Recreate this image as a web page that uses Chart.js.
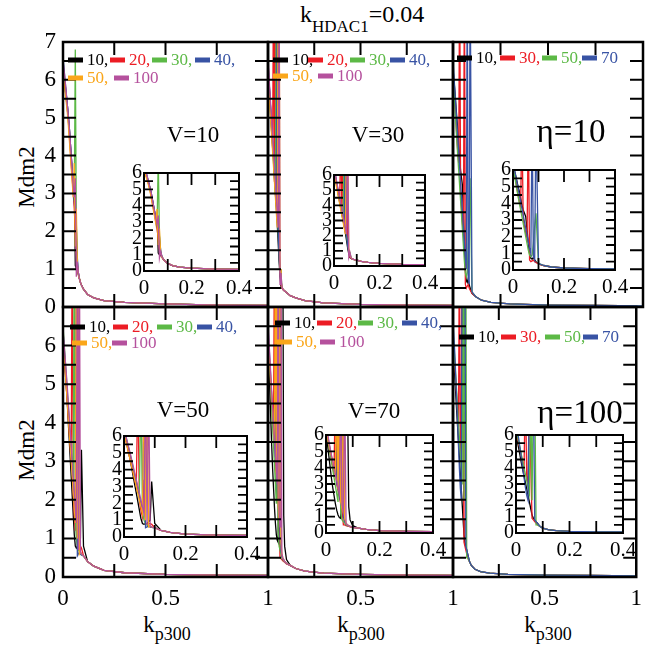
<!DOCTYPE html>
<html>
<head>
<meta charset="utf-8">
<script src="https://cdn.jsdelivr.net/npm/chart.js@4.4.1/dist/chart.umd.min.js"></script>
<style>
  body { margin: 0; background: #fff; font-family: 'Liberation Serif', serif; }
  #wrap { position: relative; width: 650px; height: 648px; overflow: hidden; }
  #wrap canvas { position: absolute; left: 0; top: 0; }
  .lbl { position: absolute; white-space: nowrap; color: #000; line-height: 1; font-family: 'Liberation Serif', serif; }
  .sub { position: relative; }
  .ylab { transform: translate(-50%, -50%) rotate(-90deg); }
  .xlab { transform: translateX(-50%); }
</style>
</head>
<body>
<div id="wrap">
  <div class="lbl" style="left:300px;top:2px;font-size:24px">k<span class="sub" style="font-size:17px;top:10px">HDAC1</span>=0.04</div>
  <div class="lbl ylab" style="left:26px;top:177px;font-size:23px">Mdm2</div>
  <div class="lbl ylab" style="left:26px;top:450px;font-size:23px">Mdm2</div>
  <div class="lbl xlab" style="left:167px;top:613px;font-size:23px">k<span class="sub" style="font-size:18px;top:8px">p300</span></div>
  <div class="lbl xlab" style="left:361px;top:613px;font-size:23px">k<span class="sub" style="font-size:18px;top:8px">p300</span></div>
  <div class="lbl xlab" style="left:548px;top:613px;font-size:23px">k<span class="sub" style="font-size:18px;top:8px">p300</span></div>
</div>
<script>
/* Mdm2 response vs k_p300, six parameter sets, each with a zoomed inset */

// sample points on the k_p300 axis (dense near the drop, coarse in the tail)
const kp300 = [0, 0.01, 0.02, 0.025, 0.03, 0.035, 0.04, 0.045, 0.05, 0.055, 0.06, 0.065, 0.07, 0.075, 0.08, 0.085, 0.09, 0.1,
               0.12, 0.15, 0.2, 0.3, 0.5, 0.75, 1];

// series order: V panels 10,20,30,40,50,100 ; eta panels 10,30,50,70
const legendV = ['10,', '20,', '30,', '40,', '50,', '100'];
const legendEta = ['10,', '30,', '50,', '70'];
const COLORS_V = ['#000000', '#ec1c24', '#5cb946', '#3853a4', '#faa61a', '#b5519d'];
const COLORS_ETA = ['#000000', '#ec1c24', '#5cb946', '#3853a4'];

// Mdm2 values for k_p300 <= 0.1 (values above the axis top run off the frame)
const headV10 = [
  [6.4, 5.9, 5.4, 5.1, 4.8, 4.4, 4.0, 3.6, 3.3, 3.5, 1.1, 1.0, 0.95, 0.85, 0.75, 0.65, 0.58, 0.47],
  [6.3, 5.8, 5.3, 5.0, 4.6, 4.2, 3.8, 3.4, 3.0, 2.6, 2.0, 1.4, 1.1, 0.9, 0.75, 0.65, 0.58, 0.47],
  [6.3, 5.8, 5.3, 5.0, 4.7, 4.3, 3.9, 3.5, 3.1, 2.8, 6.8, 2.2, 1.2, 0.9, 0.75, 0.65, 0.58, 0.47],
  [6.6, 6.0, 5.4, 5.1, 4.8, 4.4, 4.0, 3.6, 3.2, 2.8, 2.4, 2.1, 1.3, 0.9, 0.75, 0.65, 0.58, 0.47],
  [6.2, 5.7, 5.2, 4.9, 4.5, 4.1, 3.7, 3.3, 2.9, 3.8, 1.6, 2.6, 1.1, 0.85, 0.75, 0.65, 0.58, 0.47],
  [6.5, 6.0, 5.4, 5.1, 4.8, 4.4, 4.0, 3.6, 3.2, 2.9, 3.4, 0.8, 1.2, 0.9, 0.75, 0.65, 0.58, 0.47],
];
const headV30 = [
  [6.5, 5.6, 4.7, 4.3, 3.9, 3.4, 3.0, 2.6, 2.2, 1.7, 1.2, 0.8, 0.55, 0.5, 0.47, 0.44, 0.42, 0.38],
  [6.3, 5.5, 4.6, 4.2, 9, 3.3, 9, 3.0, 2.4, 9, 1.5, 1.0, 0.6, 0.5, 0.47, 0.44, 0.42, 0.38],
  [6.2, 5.4, 4.6, 4.2, 3.8, 3.4, 3.0, 9, 2.4, 2.0, 1.5, 1.0, 0.9, 0.55, 0.47, 0.44, 0.42, 0.38],
  [6.4, 5.6, 4.8, 4.4, 4.0, 3.6, 3.2, 2.8, 9, 2.1, 1.4, 0.9, 0.7, 0.55, 0.47, 0.44, 0.42, 0.38],
  [6.1, 5.3, 4.5, 4.1, 3.7, 3.3, 2.9, 2.5, 2.1, 9, 9, 1.0, 0.7, 0.55, 0.47, 0.44, 0.42, 0.38],
  [6.6, 5.7, 4.9, 4.5, 4.1, 3.7, 3.3, 2.9, 2.5, 2.1, 9, 0.6, 0.9, 0.55, 0.47, 0.44, 0.42, 0.38],
];
const headEta10 = [
  [6.3, 5.7, 5.0, 4.7, 4.3, 3.9, 3.6, 3.4, 3.2, 2.4, 1.6, 1.0, 0.7, 0.65, 0.75, 0.6, 0.5, 0.36],
  [6.2, 5.4, 4.5, 4.1, 3.8, 9, 3.0, 2.6, 2.2, 1.9, 9, 0.6, 0.5, 0.55, 0.6, 0.5, 0.45, 0.36],
  [6.2, 5.3, 4.4, 4.0, 3.6, 3.2, 2.8, 2.4, 2.0, 1.6, 1.2, 0.9, 0.8, 0.9, 1.6, 2.6, 3.4, 0.4],
  [6.5, 5.7, 4.9, 4.5, 4.1, 3.7, 3.3, 2.9, 2.5, 2.1, 1.7, 1.3, 1.0, 9, 0.8, 0.6, 9, 0.4],
];
const headV50 = [
  [6.3, 5.5, 4.6, 4.1, 3.6, 3.1, 2.6, 2.1, 1.6, 1.1, 0.8, 0.75, 0.8, 0.8, 0.9, 1.0, 3.3, 0.8],
  [6.2, 5.4, 4.6, 4.2, 3.8, 3.4, 3.0, 9, 2.2, 1.6, 1.2, 3.4, 0.8, 0.75, 0.8, 0.8, 0.75, 0.55],
  [6.5, 5.7, 4.9, 4.5, 4.1, 3.7, 3.3, 2.9, 2.5, 9, 1.5, 1.0, 0.8, 0.7, 0.65, 0.6, 0.57, 0.55],
  [6.4, 5.6, 4.8, 4.4, 4.0, 3.6, 3.2, 2.8, 2.4, 2.0, 1.6, 9, 0.55, 0.6, 0.65, 0.6, 0.57, 0.55],
  [6.1, 5.4, 4.6, 4.2, 3.8, 3.4, 3.0, 2.6, 2.2, 1.8, 1.4, 9, 1.0, 9, 0.6, 0.65, 0.6, 0.55],
  [6.4, 5.7, 5.0, 4.6, 4.2, 3.8, 3.4, 3.0, 2.6, 2.2, 1.8, 1.4, 9, 0.7, 9, 0.65, 0.6, 0.55],
];
const headV70 = [
  [6.2, 4.8, 3.4, 2.8, 2.3, 1.8, 1.4, 1.1, 0.95, 0.9, 9, 9, 9, 9, 9, 1.6, 0.8, 0.45],
  [6.3, 5.4, 4.5, 4.1, 3.7, 9, 3.0, 2.6, 2.2, 9, 1.5, 0.5, 0.5, 0.45, 0.42, 0.4, 0.38, 0.34],
  [6.4, 5.4, 4.4, 3.9, 3.4, 2.9, 2.4, 1.9, 9, 1.2, 0.8, 0.7, 0.6, 0.5, 0.45, 0.42, 0.4, 0.35],
  [6.5, 5.6, 4.7, 4.3, 3.9, 3.5, 3.1, 9, 2.3, 1.9, 9, 1.0, 0.7, 0.55, 0.47, 0.43, 0.4, 0.35],
  [6.3, 5.5, 4.7, 4.3, 3.9, 3.5, 9, 2.7, 9, 1.9, 1.5, 9, 0.9, 0.6, 0.5, 0.45, 0.4, 0.35],
  [6.6, 5.7, 4.8, 4.4, 4.0, 3.6, 3.2, 2.8, 2.4, 9, 1.7, 1.3, 9, 0.6, 0.5, 0.45, 0.4, 0.35],
];
const headEta100 = [
  [6.0, 5.2, 4.3, 3.9, 3.5, 3.1, 2.7, 2.3, 1.9, 1.5, 1.1, 0.9, 0.8, 0.7, 0.6, 0.5, 0.4, 0.3],
  [6.3, 5.5, 4.7, 4.3, 3.9, 9, 3.5, 3.0, 9, 4.3, 0.9, 0.8, 0.7, 0.6, 0.5, 0.45, 0.4, 0.3],
  [6.4, 5.6, 4.8, 4.4, 4.0, 3.6, 3.2, 2.8, 2.4, 9, 2.0, 9, 9, 0.5, 0.5, 0.45, 0.4, 0.3],
  [6.6, 5.8, 4.6, 4.0, 3.4, 2.8, 2.3, 2.0, 9, 9, 9, 9, 0.8, 0.7, 0.6, 0.5, 0.4, 0.3],
];

// shared decay for k_p300 = 0.12 .. 1
const tailV10 = [0.33, 0.24, 0.17, 0.12, 0.08, 0.05, 0.04];
const tailV30 = [0.3, 0.24, 0.17, 0.11, 0.07, 0.05, 0.04];
const tailEta10 = [0.27, 0.18, 0.12, 0.08, 0.05, 0.04, 0.03];
const tailV50 = [0.4, 0.28, 0.17, 0.11, 0.07, 0.05, 0.04];
const tailV70 = [0.3, 0.22, 0.15, 0.1, 0.07, 0.05, 0.04];
const tailEta100 = [0.2, 0.14, 0.1, 0.07, 0.05, 0.04, 0.03];

const W = 650, H = 648;
const SERIF = "'Liberation Serif', serif";
Chart.defaults.font.family = SERIF;
Chart.defaults.color = '#000';

// panel frames [left, top, right, bottom], inset frames, legend slots, panel tags
const PANELS = [
  { box: [63, 42, 268, 307], inset: [144, 173, 239, 271], head: headV10, tail: tailV10, keys: legendV, colors: COLORS_V,
    col: 0, row: 0, tag: 'V=10', tagAt: [130, 100], tagSize: 23,
    keyAt: [[5, 18], [47, 18], [89, 18], [132, 18], [5, 36], [51, 36]] },
  { box: [268, 42, 453, 307], inset: [334, 175, 425, 266], head: headV30, tail: tailV30, keys: legendV, colors: COLORS_V,
    col: 1, row: 0, tag: 'V=30', tagAt: [110, 100], tagSize: 23,
    keyAt: [[5, 18], [40, 18], [82, 18], [122, 18], [5, 34], [50, 34]] },
  { box: [453, 42, 643, 307], inset: [513, 170, 615, 270], head: headEta10, tail: tailEta10, keys: legendEta, colors: COLORS_ETA,
    col: 2, row: 0, tag: 'η=10', tagAt: [118, 100], tagSize: 33,
    keyAt: [[4, 16], [47, 16], [89, 16], [129, 16]] },
  { box: [63, 307, 268, 577], inset: [124, 436, 247, 537], head: headV50, tail: tailV50, keys: legendV, colors: COLORS_V,
    col: 0, row: 1, tag: 'V=50', tagAt: [120, 110], tagSize: 23,
    keyAt: [[7, 20], [50, 20], [94, 20], [134, 20], [9, 36], [49, 36]] },
  { box: [268, 307, 453, 577], inset: [326, 435, 433, 533], head: headV70, tail: tailV70, keys: legendV, colors: COLORS_V,
    col: 1, row: 1, tag: 'V=70', tagAt: [106, 111], tagSize: 23,
    keyAt: [[7, 16], [49, 16], [90, 16], [134, 16], [9, 35], [52, 35]] },
  { box: [453, 307, 643, 577], inset: [516, 435, 623, 533], head: headEta100, tail: tailEta100, keys: legendEta, colors: COLORS_ETA,
    col: 2, row: 1, tag: 'η=100', tagAt: [127, 116], tagSize: 33,
    keyAt: [[6, 30], [48, 30], [92, 30], [130, 30]] },
];

// frame + inward ticks on all four sides, white backing for insets
const framePlugin = {
  id: 'frame',
  beforeDraw(chart, args, o) {
    if (!o.backing) return;
    const a = chart.chartArea, ctx = chart.ctx;
    ctx.save();
    ctx.fillStyle = '#fff';
    ctx.fillRect(a.left, a.top, a.right - a.left, a.bottom - a.top);
    ctx.restore();
  },
  afterDraw(chart, args, o) {
    if (!o.width) return;
    const { ctx, chartArea: a, scales: { x, y } } = chart;
    ctx.save();
    ctx.strokeStyle = '#000';
    ctx.lineWidth = o.tickWidth;
    ctx.beginPath();
    const nx = Math.round((x.max - x.min) / o.xStep);
    for (let i = 1; i < nx; i++) {
      const px = x.getPixelForValue(x.min + i * o.xStep);
      ctx.moveTo(px, a.bottom); ctx.lineTo(px, a.bottom - o.xLen);
      ctx.moveTo(px, a.top); ctx.lineTo(px, a.top + o.xLen);
    }
    const ny = Math.round((y.max - y.min) / o.yStep);
    for (let i = 1; i < ny; i++) {
      const py = y.getPixelForValue(y.min + i * o.yStep);
      ctx.moveTo(a.left, py); ctx.lineTo(a.left + o.yLen, py);
      ctx.moveTo(a.right, py); ctx.lineTo(a.right - o.yLen, py);
    }
    ctx.stroke();
    ctx.lineWidth = o.width;
    ctx.strokeRect(a.left, a.top, a.right - a.left, a.bottom - a.top);
    ctx.restore();
  }
};

// coloured key segments with coloured numbers, plus the panel tag
const keyPlugin = {
  id: 'keyText',
  afterDraw(chart, args, o) {
    if (!o.slots) return;
    const { ctx, chartArea: a } = chart;
    ctx.save();
    chart.data.datasets.forEach((ds, i) => {
      const [dx, dy] = o.slots[i];
      const x0 = a.left + dx, y0 = a.top + dy;
      ctx.strokeStyle = ds.borderColor;
      ctx.lineWidth = 5;
      ctx.beginPath(); ctx.moveTo(x0, y0); ctx.lineTo(x0 + 15, y0); ctx.stroke();
      ctx.fillStyle = ds.borderColor;
      ctx.font = '17px ' + SERIF;
      ctx.textBaseline = 'middle';
      ctx.textAlign = 'left';
      ctx.fillText(ds.label, x0 + 19, y0 + 1);
    });
    if (o.tag) {
      ctx.fillStyle = '#000';
      ctx.font = o.tagSize + 'px ' + SERIF;
      ctx.textAlign = 'center';
      ctx.textBaseline = 'alphabetic';
      ctx.fillText(o.tag, a.left + o.tagAt[0], a.top + o.tagAt[1]);
    }
    ctx.restore();
  }
};

Chart.register(framePlugin, keyPlugin);

const wrap = document.getElementById('wrap');

function datasetsFor(p) {
  const n = p.head.length;
  return p.head.map((h, s) => ({
    label: p.keys[s],
    data: h.concat(p.tail).map((v, i) => ({ x: kp300[i], y: v })),
    borderColor: p.colors[s],
    borderWidth: 1.3,
    pointRadius: 0,
    tension: 0,
    fill: false,
    order: n - s, // later series sit on top
  }));
}

function plotChart(p, isInset) {
  const cv = document.createElement('canvas');
  cv.width = W; cv.height = H;
  wrap.appendChild(cv);
  const [l, t, r, b] = isInset ? p.inset : p.box;
  const padL = isInset ? 30 : 40, padB = isInset ? 30 : 40;
  const showX = isInset || p.row === 1;
  const showY = isInset || p.col === 0;
  const xMax = isInset ? 0.4 : 1, yMax = isInset ? 6 : 7;

  return new Chart(cv, {
    type: 'line',
    data: { datasets: datasetsFor(p) },
    options: {
      responsive: false,
      animation: false,
      events: [],
      devicePixelRatio: 1,
      layout: { padding: { left: l - padL, top: t, right: W - r, bottom: H - b - padB } },
      scales: {
        x: {
          type: 'linear', min: 0, max: xMax,
          grid: { display: false, drawTicks: false }, border: { display: false },
          ticks: {
            display: showX, stepSize: isInset ? 0.2 : 0.5, autoSkip: false, maxRotation: 0,
            padding: isInset ? 5 : 8, font: { size: isInset ? 21 : 23 },
            callback: (v) => (!isInset && p.col > 0 && v === 0) ? '' : String(+v.toFixed(2)),
          },
          afterFit: (s) => { s.height = padB; },
        },
        y: {
          min: 0, max: yMax,
          grid: { display: false, drawTicks: false }, border: { display: false },
          ticks: {
            display: showY, stepSize: 1, autoSkip: false,
            padding: isInset ? 2 : 7, font: { size: isInset ? 20 : 23 },
            callback: (v) => (!isInset && p.row === 1 && v === 7) ? '' : String(v),
          },
          afterFit: (s) => { s.width = padL; },
        },
      },
      plugins: {
        legend: { display: false },
        tooltip: { enabled: false },
        frame: isInset
          ? { width: 2, tickWidth: 1.8, xStep: 0.1, yStep: 0.5, xLen: 12, yLen: 9, backing: true }
          : { width: 2.5, tickWidth: 2, xStep: 0.25, yStep: 0.5, xLen: 13, yLen: 13 },
        keyText: isInset ? {} : { slots: p.keyAt, tag: p.tag, tagAt: p.tagAt, tagSize: p.tagSize },
      },
    },
  });
}

PANELS.forEach((p) => plotChart(p, false));
PANELS.forEach((p) => plotChart(p, true));
</script>
</body>
</html>
